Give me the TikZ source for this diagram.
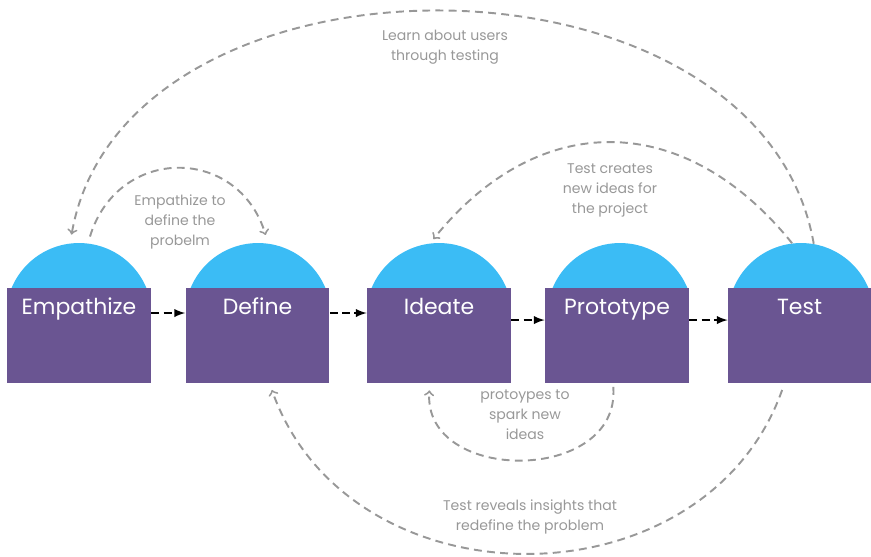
\documentclass[tikz,border=0pt]{standalone}
\usepackage{fontspec}
\setmainfont{Poppins}
\usetikzlibrary{calc}
\usetikzlibrary{arrows}
\definecolor{stagepurple}{RGB}{106,85,146}
\definecolor{domeblue}{RGB}{59,188,245}
\definecolor{notegray}{RGB}{152,152,152}

\begin{document}
\begin{tikzpicture}[x=0.02cm,y=-0.02cm,
  dome/.style={circle, fill=domeblue, minimum size=2.92cm, inner sep=0pt},
  stagebox/.style={rectangle, fill=stagepurple, minimum width=2.88cm, minimum height=1.9cm, inner sep=0pt},
  stagename/.style={text=white, font=\fontsize{12.5}{15}\selectfont, inner sep=0pt, anchor=base},
  note/.style={text=notegray, font=\fontsize{8}{11.4}\selectfont, align=center, inner sep=1pt},
  flow/.style={black, line width=1.1pt, dash pattern=on 4.5pt off 2.5pt, -latex},
  feedback/.style={notegray, line width=1.1pt, dash pattern=on 4.5pt off 3pt, ->, >=to}
]
\useasboundingbox (0,0) rectangle (871,556);

% only the tops of the domes show above the boxes
\begin{scope}
\clip (0,0) rectangle (871,288.5);
\node[dome] (domeE) at (79,316) {};
\node[dome] (domeD) at (258,316) {};
\node[dome] (domeI) at (439,316) {};
\node[dome] (domeP) at (620,316) {};
\node[dome] (domeT) at (801,316) {};
\end{scope}

\node[stagebox] (bE) at (79,335.5) {};
\node[stagebox] (bD) at (257.5,335.5) {};
\node[stagebox] (bI) at (439,335.5) {};
\node[stagebox] (bP) at (617,335.5) {};
\node[stagebox, minimum width=2.86cm] (bT) at (799.5,335.5) {};

\node[stagename] (tE) at ([yshift=-15.4pt]bE.north) {Empathize};
\node[stagename] (tD) at ([yshift=-15.4pt]bD.north) {Define};
\node[stagename] (tI) at ([yshift=-15.4pt]bI.north) {Ideate};
\node[stagename] (tP) at ([yshift=-15.4pt]bP.north) {Prototype};
\node[stagename] (tT) at ([yshift=-15.4pt]bT.north) {Test};

\draw[flow] ([yshift=12.8pt]bE.east) -- ([yshift=12.8pt]bD.west);
\draw[flow] ([yshift=12.8pt]bD.east) -- ([yshift=12.8pt]bI.west);
\draw[flow] ([yshift=8.8pt]bI.east) -- ([yshift=8.8pt]bP.west);
\draw[flow] ([yshift=8.8pt]bP.east) -- ([yshift=8.8pt]bT.west);

\node[note] (nLearn) at (445,47) {Learn about users\\through testing};
\node[note] (nEmp) at (180,222) {Empathize to\\define the\\probelm};
\node[note] (nCreate) at (610,190) {Test creates\\new ideas for\\the project};
\node[note] (nSpark) at (525,415) {protoypes to\\spark new\\ideas};
\node[note] (nReveal) at (530,517) {Test reveals insights that\\redefine the problem};

\draw[feedback, shorten >=5pt] (domeT.80) .. controls +(-54,-309) and +(54,-309) .. (domeE.97);
\draw[feedback, shorten <=4pt, shorten >=5pt] (domeE.83) .. controls +(30,-98) and +(-30,-98) .. (domeD.82);
\draw[feedback, shorten >=3pt] (domeT.97) .. controls +(-108,-134) and +(108,-134) .. (domeI.97);
\draw[feedback, shorten <=2pt, shorten >=4pt] ($(bP.south)+(-4,0)$) .. controls +(8,101) and +(-8,101) .. ($(bI.south)+(-9,0)$);
\draw[feedback, shorten <=4pt, shorten >=4pt] ($(bT.south)+(-15,0)$) .. controls +(-80,225) and +(80,225) .. ($(bD.south)+(12,0)$);
\end{tikzpicture}
\end{document}
